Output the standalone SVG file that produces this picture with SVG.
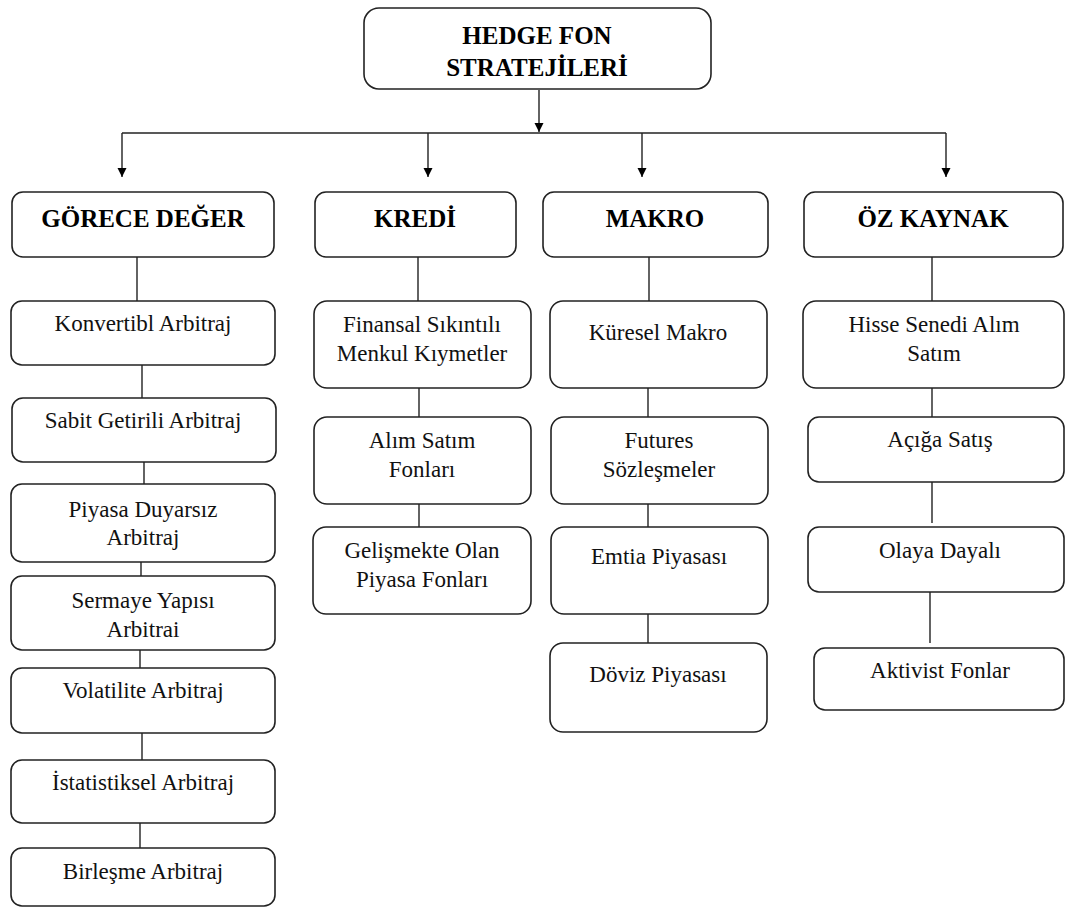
<svg xmlns="http://www.w3.org/2000/svg" width="1065" height="909" viewBox="0 0 1065 909">
<defs>
<style>
.box{fill:#fff;stroke:#222;stroke-width:1.6}
.t{font-family:"Liberation Serif","Times New Roman",serif;font-size:23px;fill:#111;text-anchor:middle}
.h{font-family:"Liberation Serif","Times New Roman",serif;font-size:25px;font-weight:bold;fill:#000;text-anchor:middle}
.c{stroke:#222;stroke-width:1.4;fill:none}
</style>
<marker id="arr" viewBox="0 0 10 10" refX="10" refY="5" markerWidth="9" markerHeight="13" markerUnits="userSpaceOnUse" orient="auto">
<path d="M0,0 L10,5 L0,10 z" fill="#000"/>
</marker>
</defs>
<rect width="1065" height="909" fill="#fff"/>
<g id="connectors">
<line class="c" x1="539" y1="90" x2="539" y2="132" marker-end="url(#arr)"/>
<line class="c" x1="122" y1="133" x2="946" y2="133"/>
<line class="c" x1="122" y1="133" x2="122" y2="177" marker-end="url(#arr)"/>
<line class="c" x1="428" y1="133" x2="428" y2="177" marker-end="url(#arr)"/>
<line class="c" x1="642" y1="133" x2="642" y2="177" marker-end="url(#arr)"/>
<line class="c" x1="946" y1="133" x2="946" y2="177" marker-end="url(#arr)"/>
<line class="c" x1="137" y1="257" x2="137" y2="301"/>
<line class="c" x1="418" y1="257" x2="418" y2="301"/>
<line class="c" x1="649" y1="257" x2="649" y2="301"/>
<line class="c" x1="932" y1="257" x2="932" y2="301"/>
<line class="c" x1="142" y1="365" x2="142" y2="398"/>
<line class="c" x1="144" y1="462" x2="144" y2="484"/>
<line class="c" x1="141" y1="562" x2="141" y2="576"/>
<line class="c" x1="140" y1="650" x2="140" y2="668"/>
<line class="c" x1="142" y1="733" x2="142" y2="760"/>
<line class="c" x1="140" y1="823" x2="140" y2="848"/>
<line class="c" x1="419" y1="388" x2="419" y2="417"/>
<line class="c" x1="419" y1="504" x2="419" y2="527"/>
<line class="c" x1="648" y1="388" x2="648" y2="417"/>
<line class="c" x1="648" y1="504" x2="648" y2="527"/>
<line class="c" x1="648" y1="614" x2="648" y2="643"/>
<line class="c" x1="932" y1="388" x2="932" y2="417"/>
<line class="c" x1="932" y1="482" x2="932" y2="523"/>
<line class="c" x1="930" y1="592" x2="930" y2="643"/>
</g>
<g id="root"><rect class="box" x="364" y="8" width="347" height="81" rx="15"/><text class="h" x="537" y="44">HEDGE FON</text><text class="h" x="537" y="76">STRATEJİLERİ</text></g>
<g id="gorece"><rect class="box" x="12" y="192" width="262" height="65" rx="11"/><text class="h" x="143" y="227">GÖRECE DEĞER</text></g>
<g id="kredi"><rect class="box" x="315" y="192" width="201" height="65" rx="11"/><text class="h" x="415" y="227">KREDİ</text></g>
<g id="makro"><rect class="box" x="543" y="192" width="225" height="65" rx="11"/><text class="h" x="655" y="227">MAKRO</text></g>
<g id="ozkaynak"><rect class="box" x="804" y="192" width="259" height="65" rx="11"/><text class="h" x="933" y="227">ÖZ KAYNAK</text></g>
<g id="konvertibl"><rect class="box" x="11" y="301" width="264" height="64" rx="11"/><text class="t" x="143" y="331">Konvertibl Arbitraj</text></g>
<g id="sabit"><rect class="box" x="12" y="398" width="264" height="64" rx="11"/><text class="t" x="143" y="428">Sabit Getirili Arbitraj</text></g>
<g id="piyasa"><rect class="box" x="11" y="484" width="264" height="78" rx="11"/><text class="t" x="143" y="517">Piyasa Duyarsız</text><text class="t" x="143" y="545">Arbitraj</text></g>
<g id="sermaye"><rect class="box" x="11" y="576" width="264" height="74" rx="11"/><text class="t" x="143" y="608">Sermaye Yapısı</text><text class="t" x="143" y="637">Arbitrai</text></g>
<g id="volatilite"><rect class="box" x="11" y="668" width="264" height="65" rx="11"/><text class="t" x="143" y="698">Volatilite Arbitraj</text></g>
<g id="istatistiksel"><rect class="box" x="11" y="760" width="264" height="63" rx="11"/><text class="t" x="143" y="790">İstatistiksel Arbitraj</text></g>
<g id="birlesme"><rect class="box" x="11" y="848" width="264" height="58" rx="11"/><text class="t" x="143" y="879">Birleşme Arbitraj</text></g>
<g id="finansal"><rect class="box" x="314" y="301" width="217" height="87" rx="13"/><text class="t" x="422" y="332">Finansal Sıkıntılı</text><text class="t" x="422" y="361">Menkul Kıymetler</text></g>
<g id="alimsatim"><rect class="box" x="314" y="417" width="217" height="87" rx="13"/><text class="t" x="422" y="448">Alım Satım</text><text class="t" x="422" y="477">Fonları</text></g>
<g id="gelismekte"><rect class="box" x="313" y="527" width="218" height="87" rx="13"/><text class="t" x="422" y="558">Gelişmekte Olan</text><text class="t" x="422" y="587">Piyasa Fonları</text></g>
<g id="kuresel"><rect class="box" x="550" y="301" width="217" height="87" rx="13"/><text class="t" x="658" y="340">Küresel Makro</text></g>
<g id="futures"><rect class="box" x="551" y="417" width="217" height="87" rx="13"/><text class="t" x="659" y="448">Futures</text><text class="t" x="659" y="477">Sözleşmeler</text></g>
<g id="emtia"><rect class="box" x="551" y="527" width="217" height="87" rx="13"/><text class="t" x="659" y="564">Emtia Piyasası</text></g>
<g id="doviz"><rect class="box" x="550" y="643" width="217" height="89" rx="13"/><text class="t" x="658" y="682">Döviz Piyasası</text></g>
<g id="hisse"><rect class="box" x="803" y="301" width="261" height="87" rx="13"/><text class="t" x="934" y="332">Hisse Senedi Alım</text><text class="t" x="934" y="361">Satım</text></g>
<g id="aciga"><rect class="box" x="808" y="417" width="256" height="65" rx="11"/><text class="t" x="940" y="447">Açığa Satış</text></g>
<g id="olaya"><rect class="box" x="808" y="527" width="256" height="65" rx="11"/><text class="t" x="940" y="558">Olaya Dayalı</text></g>
<g id="aktivist"><rect class="box" x="814" y="648" width="250" height="62" rx="11"/><text class="t" x="940" y="678">Aktivist Fonlar</text></g>
</svg>
